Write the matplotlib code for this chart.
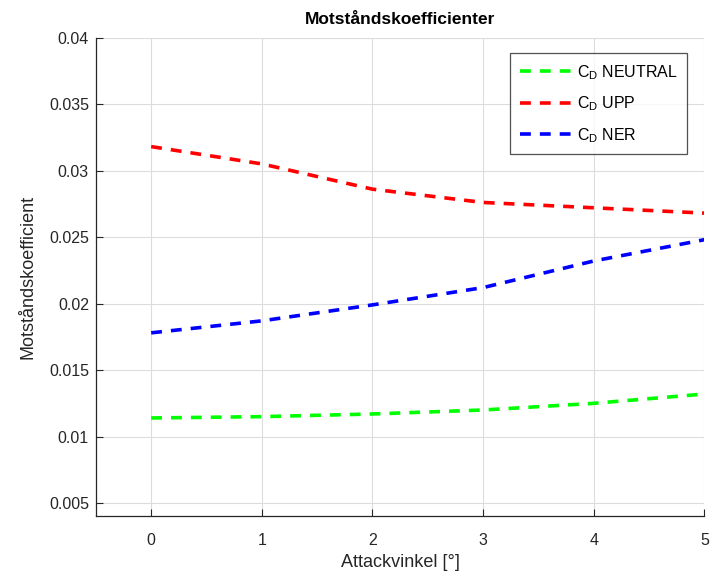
import matplotlib
matplotlib.use("Agg")
import matplotlib.pyplot as plt

plt.rcParams['font.family'] = ['Liberation Sans', 'DejaVu Sans']
plt.rcParams['mathtext.fontset'] = 'custom'
plt.rcParams['mathtext.rm'] = 'Liberation Sans'
plt.rcParams['mathtext.it'] = 'Liberation Sans'

angles = [0, 1, 2, 3, 4, 5]
cd_neutral = [0.0114, 0.0115, 0.0117, 0.0120, 0.0125, 0.0132]
cd_upp = [0.0318, 0.0305, 0.0286, 0.0276, 0.0272, 0.0268]
cd_ner = [0.0178, 0.0187, 0.0199, 0.0212, 0.0232, 0.0248]
labels = [r'C$_\mathrm{D}$ NEUTRAL', r'C$_\mathrm{D}$ UPP', r'C$_\mathrm{D}$ NER']
colors = ['#00ff00', '#ff0000', '#0000ff']

fig = plt.figure(figsize=(7.1, 5.77), dpi=100)
ax = fig.add_axes([0.135, 0.105, 0.857, 0.83])

for y, lab, c in zip([cd_neutral, cd_upp, cd_ner], labels, colors):
    ax.plot(angles, y, linestyle=(0, (3, 2.5)), color=c, linewidth=2.6, label=lab)

ax.set_xlim(-0.5, 5)
ax.set_ylim(0.004, 0.04)
ax.set_xticks([0, 1, 2, 3, 4, 5])
ax.set_yticks([0.005, 0.01, 0.015, 0.02, 0.025, 0.03, 0.035, 0.04])
ax.set_yticklabels(['0.005', '0.01', '0.015', '0.02', '0.025', '0.03', '0.035', '0.04'])
ax.grid(True, color='#dcdcdc', linewidth=0.8)
ax.set_axisbelow(True)
for s in ['top', 'right']:
    ax.spines[s].set_visible(False)
for s in ['left', 'bottom']:
    ax.spines[s].set_color('#262626')
    ax.spines[s].set_linewidth(0.9)
ax.tick_params(colors='#262626', labelsize=11.5, direction='in', length=5, width=0.8, pad=12)
ax.tick_params(axis='y', pad=5)
ax.set_xlabel('Attackvinkel [°]', fontsize=13, color='#262626', labelpad=4)
ax.set_ylabel('Motståndskoefficient', fontsize=13, color='#262626', labelpad=9)
ax.set_title('Motståndskoefficienter', fontsize=12.5, fontweight='bold', color='black', pad=10)

leg = ax.legend(loc='upper right', bbox_to_anchor=(0.98, 0.977), fontsize=11.5,
                frameon=True, fancybox=False, edgecolor='#262626', handlelength=3.4,
                handletextpad=0.2, borderpad=0.6, labelspacing=0.8, borderaxespad=0.3)
leg.get_frame().set_linewidth(0.9)

fig.savefig('out.png', dpi=100, facecolor='white')
